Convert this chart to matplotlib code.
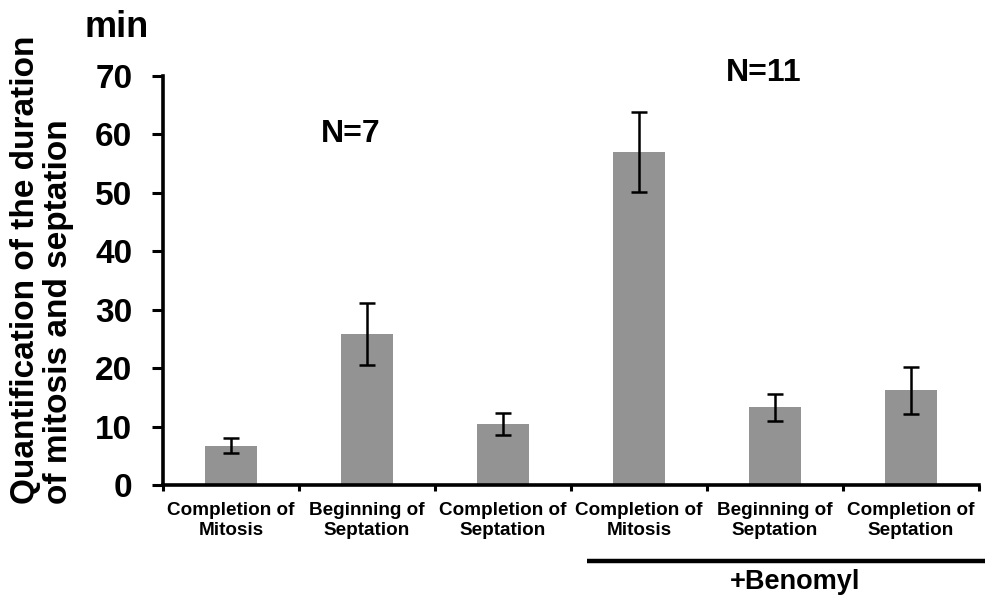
import matplotlib
matplotlib.use("Agg")
import matplotlib.pyplot as plt
import matplotlib.transforms as mtransforms
import numpy as np

plt.rcParams['font.family'] = ['Liberation Sans', 'DejaVu Sans']
plt.rcParams['font.weight'] = 'bold'

categories = ["Completion of\nMitosis", "Beginning of\nSeptation", "Completion of\nSeptation",
              "Completion of\nMitosis", "Beginning of\nSeptation", "Completion of\nSeptation"]
values = [6.7, 25.9, 10.4, 57.0, 13.3, 16.2]
errors = [1.3, 5.3, 1.9, 6.8, 2.3, 4.0]
yticks = [0, 10, 20, 30, 40, 50, 60, 70]
group_labels = ["N=7", "N=11"]

fig = plt.figure(figsize=(9.85, 5.99), dpi=100)
ax = fig.add_axes([163/985, (599-485)/599, 816/985, 409/599])

x = np.arange(len(values)) + 0.5
ax.bar(x, values, width=0.38, color='#939393', zorder=2)
ax.errorbar(x, values, yerr=errors, fmt='none', ecolor='black', elinewidth=1.8,
            capsize=6, capthick=1.8, zorder=3)

ax.set_xlim(0, 6)
ax.set_ylim(0, 70)
ax.set_yticks(yticks)
ax.set_yticklabels([str(t) for t in yticks], fontsize=24, fontweight='bold')
ax.set_xticks(x)
ax.set_xticklabels(categories, fontsize=13.6, fontweight='bold', linespacing=1.25)
ax.set_xticks(np.arange(0, 7), minor=True)
ax.tick_params(axis='x', which='major', length=0, pad=12)
ax.tick_params(axis='x', which='minor', length=4, width=2.2, direction='out')
ax.tick_params(axis='y', which='major', length=8, width=2.2, pad=14)

for s in ['top', 'right']:
    ax.spines[s].set_visible(False)
for s in ['left', 'bottom']:
    ax.spines[s].set_linewidth(2.6)

# group annotations
ax.text(1.38, 60, group_labels[0], fontsize=23, fontweight='bold', ha='center', va='center')
ax.text(4.42, 70.5, group_labels[1], fontsize=23, fontweight='bold', ha='center', va='center')

# +Benomyl bracket
trans = mtransforms.blended_transform_factory(ax.transData, fig.transFigure)
ax.plot([3.12, 6.05], [1-561/599, 1-561/599], color='black', lw=3.2, transform=trans,
        clip_on=False, solid_capstyle='butt')
ax.text(4.65, 1-582/599, "+Benomyl", fontsize=19.5, fontweight='bold', ha='center', va='center',
        transform=trans)

fig.text(117/985, 1-37/599, "min", fontsize=26, fontweight='bold', ha='center', va='baseline')
fig.text(42/985, 1-504/599, "Quantification of the duration\nof mitosis and septation",
         fontsize=24, fontweight='bold', rotation=90, ha='center', va='bottom',
         multialignment='left', linespacing=1.05)

fig.savefig("out.png", dpi=100)
